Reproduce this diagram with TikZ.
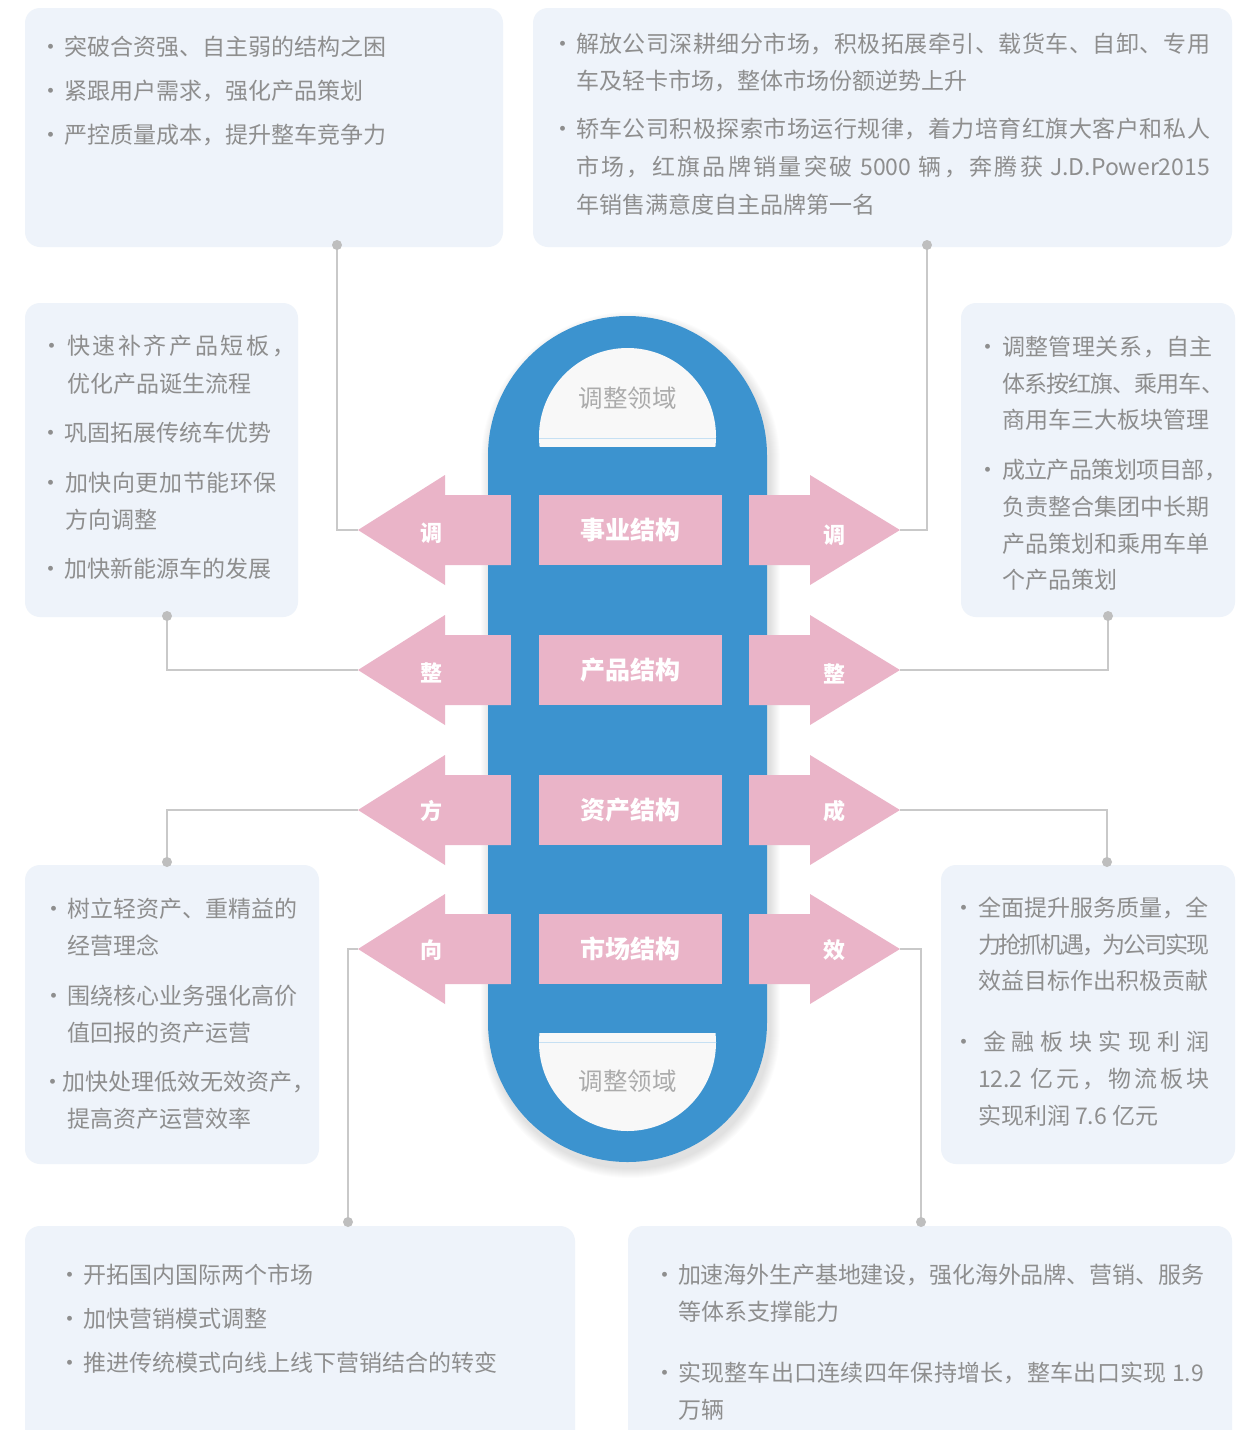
\documentclass[tikz,border=0pt]{standalone}
\usepackage{fontspec}
\setmainfont{Noto Sans CJK SC}
\usepackage{graphicx}
\definecolor{boxbg}{HTML}{EEF3FA}
\definecolor{txtc}{HTML}{8E8E8E}
\definecolor{linec}{HTML}{C9C9C9}
\definecolor{dotc}{HTML}{BEBEBE}
\definecolor{pinkc}{HTML}{EAB4C8}
\definecolor{bluec}{HTML}{3C93CF}
\definecolor{capc}{HTML}{ABABAB}
\definecolor{innerc}{HTML}{F8F8F8}
\definecolor{seamc}{HTML}{C6E0F3}
\makeatletter
\newcommand\jl[2]{\hbox to #1pt{\jl@a#2\relax}}
\def\jl@a#1{#1\jl@b}
\def\jl@b#1{\ifx\relax#1\else\hskip 0pt plus 1fil minus 1fil\relax #1\expandafter\jl@b\fi}
\makeatother
\tikzset{
  infobox/.style={fill=boxbg, rounded corners=15pt, inner sep=0pt, draw=none},
  tx/.style={anchor=base west, inner sep=0pt, outer sep=0pt, text=txtc, font=\fontsize{23pt}{28pt}\selectfont},
  bul/.style={anchor=base, inner sep=0pt, outer sep=0pt, text=txtc, font=\fontsize{23pt}{28pt}\selectfont},
  conn/.style={draw=linec, line width=2.5pt},
  cbox/.style={fill=pinkc, inner sep=0pt, minimum width=183pt, minimum height=70pt, text=white, font=\fontsize{25pt}{28pt}\selectfont\bfseries},
  atext/.style={inner sep=0pt, text=white, font=\fontsize{22pt}{26pt}\selectfont\bfseries},
  captext/.style={inner sep=0pt, text=capc, font=\fontsize{24.5pt}{28pt}\selectfont},
}
\begin{document}
\begin{tikzpicture}[x=1pt,y=-1pt]
\clip (0,0) rectangle (1249,1430);
\fill[white] (0,0) rectangle (1249,1430);

% ---------- info boxes ----------
\node[infobox, minimum width=478pt, minimum height=239pt] (b1) at (264,127.5) {};
\node[infobox, minimum width=699pt, minimum height=239pt] (b2) at (882.5,127.5) {};
\node[infobox, minimum width=273pt, minimum height=314pt] (b3) at (161.5,460) {};
\node[infobox, minimum width=274pt, minimum height=314pt] (b4) at (1098,460) {};
\node[infobox, minimum width=294pt, minimum height=299pt] (b5) at (172,1014.5) {};
\node[infobox, minimum width=294pt, minimum height=299pt] (b6) at (1088,1014.5) {};
\node[infobox, minimum width=550pt, minimum height=234pt] (b7) at (300,1343) {};
\node[infobox, minimum width=604pt, minimum height=234pt] (b8) at (930,1343) {};

% ---------- central pill ----------
\foreach \i in {1,...,10}{
  \fill[black, opacity=0.012, rounded corners={(139.5+\i)*1pt}] (488-\i+3,316-\i+6) rectangle (767+\i+3,1162+\i+6);
}
\fill[bluec, rounded corners=139.5pt] (488,316) rectangle (767,1162);
\begin{scope}
  \clip (520,330) rectangle (735,446);
  \fill[innerc] (627.5,436.5) circle[radius=88.5];
  \clip (627.5,436.5) circle[radius=88.5];
  \draw[seamc, line width=1pt] (530,438) -- (725,438);
\end{scope}
\begin{scope}
  \clip (520,1033) rectangle (735,1150);
  \fill[innerc] (627.5,1042.5) circle[radius=88.5];
  \clip (627.5,1042.5) circle[radius=88.5];
  \draw[seamc, line width=1pt] (530,1042) -- (725,1042);
\end{scope}
\node[captext] (cap1) at (627.5,398) {调整领域};
\node[captext] (cap2) at (627.5,1081) {调整领域};

% ---------- arrows ----------
\foreach \c in {530,670,810,949}{
  \fill[pinkc] (358,\c) -- (445,\c-55) -- (445,\c-35) -- (511,\c-35) -- (511,\c+35) -- (445,\c+35) -- (445,\c+55) -- cycle;
  \fill[pinkc] (900,\c) -- (810,\c-55) -- (810,\c-35) -- (749,\c-35) -- (749,\c+35) -- (810,\c+35) -- (810,\c+55) -- cycle;
}
\fill[bluec] (511,446) rectangle (539,1033);
\fill[bluec] (722,446) rectangle (749,1033);

\node[cbox] (c1) at (630.5,530) {事业结构};
\node[cbox] (c2) at (630.5,670) {产品结构};
\node[cbox] (c3) at (630.5,810) {资产结构};
\node[cbox] (c4) at (630.5,949) {市场结构};

\node[atext] (al1) at (431,533) {调};
\node[atext] (al2) at (431,673) {整};
\node[atext] (al3) at (431,811) {方};
\node[atext] (al4) at (431,950) {向};
\node[atext] (ar1) at (834,535) {调};
\node[atext] (ar2) at (834,674) {整};
\node[atext] (ar3) at (834,811) {成};
\node[atext] (ar4) at (834,950) {效};

% ---------- connectors ----------
\coordinate (lt1) at (358,530);
\coordinate (lt2) at (358,670);
\coordinate (lt3) at (358,810);
\coordinate (lt4) at (358,949);
\coordinate (rt1) at (900,530);
\coordinate (rt2) at (900,670);
\coordinate (rt3) at (900,810);
\coordinate (rt4) at (900,949);
\coordinate (d1) at (337,245);
\coordinate (d2) at (927,245);
\coordinate (d3) at (167,616);
\coordinate (d4) at (1108,616);
\coordinate (d5) at (167,862);
\coordinate (d6) at (1107,862);
\coordinate (d7) at (348,1222);
\coordinate (d8) at (921,1222);
\draw[conn] (d1) |- (lt1);
\draw[conn] (d2) |- (rt1);
\draw[conn] (d3) |- (lt2);
\draw[conn] (d4) |- (rt2);
\draw[conn] (lt3) -| (d5);
\draw[conn] (rt3) -| (d6);
\draw[conn] (lt4) -| (d7);
\draw[conn] (rt4) -| (d8);
\foreach \d in {d1,d2,d3,d4,d5,d6,d7,d8}{ \fill[dotc] (\d) circle[radius=5]; }

% ---------- box 1 ----------
\node[bul] (p1a) at (51,55.5) {·};
\node[tx] (t1a) at (64,55.5) {突破合资强、自主弱的结构之困};
\node[bul] (p1b) at (51,99.5) {·};
\node[tx] (t1b) at (64,99.5) {紧跟用户需求，强化产品策划};
\node[bul] (p1c) at (51,143.5) {·};
\node[tx] (t1c) at (64,143.5) {严控质量成本，提升整车竞争力};

% ---------- box 2 ----------
\node[bul] (p2a) at (563,52.5) {·};
\node[tx] (t2a) at (576,52.5) {\jl{634}{解放公司深耕细分市场，积极拓展牵引、载货车、自卸、专用}};
\node[tx] (t2b) at (576,89.5) {车及轻卡市场，整体市场份额逆势上升};
\node[bul] (p2c) at (563,137.5) {·};
\node[tx] (t2c) at (576,137.5) {\jl{634}{轿车公司积极探索市场运行规律，着力培育红旗大客户和私人}};
\node[tx] (t2d) at (576,175.5) {\jl{634}{市场，红旗品牌销量突破{\ 5000\ }辆，奔腾获{\ J.D.Power2015}}};
\node[tx] (t2e) at (576,213.5) {年销售满意度自主品牌第一名};

% ---------- box 3 ----------
\node[bul] (p3a) at (52,354.5) {·};
\node[tx] (t3a) at (67,354.5) {\jl{228}{快速补齐产品短板，}};
\node[tx] (t3b) at (67,392) {优化产品诞生流程};
\node[bul] (p3c) at (51,441.5) {·};
\node[tx] (t3c) at (64,441.5) {巩固拓展传统车优势};
\node[bul] (p3d) at (51,491) {·};
\node[tx] (t3d) at (65,491) {\jl{212}{加快向更加节能环保}};
\node[tx] (t3e) at (65,528.5) {方向调整};
\node[bul] (p3f) at (51,577) {·};
\node[tx] (t3f) at (64,577) {加快新能源车的发展};

% ---------- box 4 ----------
\node[bul] (p4a) at (988,355) {·};
\node[tx] (t4a) at (1002,355) {\jl{211}{调整管理关系，自主}};
\node[tx] (t4b) at (1002,392) {\jl{222}{体系按红旗、乘用车、}};
\node[tx] (t4c) at (1002,428.5) {商用车三大板块管理};
\node[bul] (p4d) at (988,478.5) {·};
\node[tx] (t4d) at (1002,478.5) {\jl{225}{成立产品策划项目部，}};
\node[tx] (t4e) at (1002,515) {负责整合集团中长期};
\node[tx] (t4f) at (1002,552) {产品策划和乘用车单};
\node[tx] (t4g) at (1002,588.5) {个产品策划};

% ---------- box 5 ----------
\node[bul] (p5a) at (54,917.5) {·};
\node[tx] (t5a) at (67,917.5) {树立轻资产、重精益的};
\node[tx] (t5b) at (67,954) {经营理念};
\node[bul] (p5c) at (54,1004.5) {·};
\node[tx] (t5c) at (67,1004.5) {围绕核心业务强化高价};
\node[tx] (t5d) at (67,1041.5) {值回报的资产运营};
\node[bul] (p5e) at (53,1090.5) {·};
\node[tx] (t5e) at (62,1090.5) {加快处理低效无效资产，};
\node[tx] (t5f) at (67,1127.5) {提高资产运营效率};

% ---------- box 6 ----------
\node[bul] (p6a) at (964,916) {·};
\node[tx] (t6a) at (978,916) {全面提升服务质量，全};
\node[tx] (t6b) at (978,953) {\jl{231}{力抢抓机遇，为公司实现}};
\node[tx] (t6c) at (978,989.5) {效益目标作出积极贡献};
\node[bul] (p6d) at (964,1050.5) {·};
\node[tx] (t6d) at (983,1050.5) {\jl{226}{金融板块实现利润}};
\node[tx] (t6e) at (978,1087.5) {\jl{231}{{12.2\ }亿元，物流板块}};
\node[tx] (t6f) at (978,1124.5) {实现利润 7.6 亿元};

% ---------- box 7 ----------
\node[bul] (p7a) at (70,1283.5) {·};
\node[tx] (t7a) at (83,1283.5) {开拓国内国际两个市场};
\node[bul] (p7b) at (70,1327.5) {·};
\node[tx] (t7b) at (83,1327.5) {加快营销模式调整};
\node[bul] (p7c) at (70,1371.5) {·};
\node[tx] (t7c) at (83,1371.5) {推进传统模式向线上线下营销结合的转变};

% ---------- box 8 ----------
\node[bul] (p8a) at (665,1283.5) {·};
\node[tx] (t8a) at (678,1283.5) {\jl{526}{加速海外生产基地建设，强化海外品牌、营销、服务}};
\node[tx] (t8b) at (678,1320.5) {等体系支撑能力};
\node[bul] (p8c) at (665,1381.5) {·};
\node[tx] (t8c) at (678,1381.5) {\jl{526}{实现整车出口连续四年保持增长，整车出口实现{\ 1.9}}};
\node[tx] (t8d) at (678,1418.5) {万辆};
\end{tikzpicture}
\end{document}
